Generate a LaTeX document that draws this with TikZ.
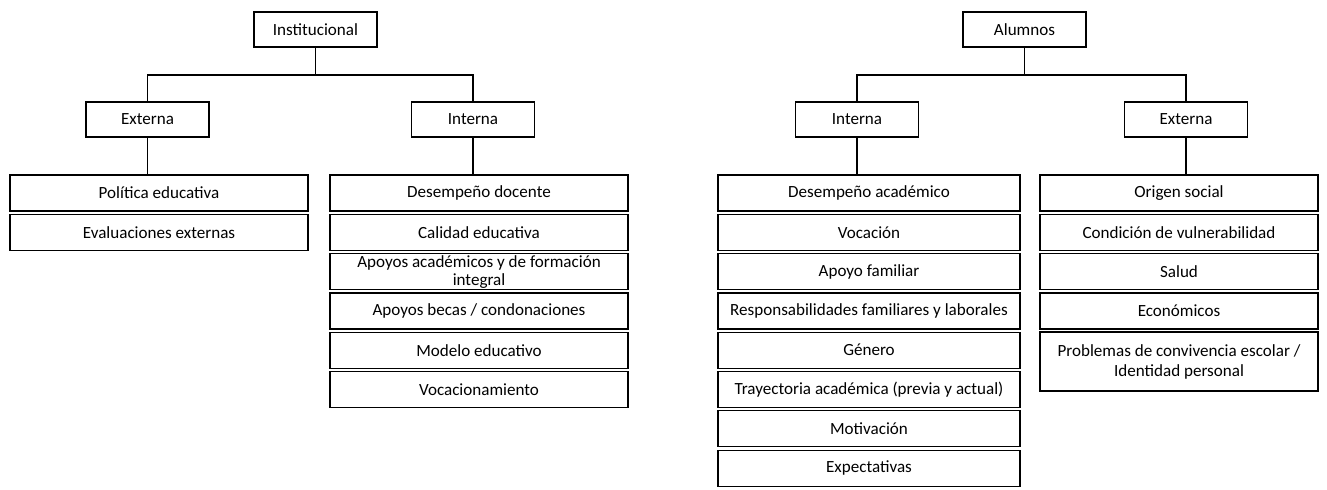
\documentclass[tikz,border=0pt]{standalone}
\usepackage{fontspec}
\setmainfont{Carlito}
\begin{document}
\begin{tikzpicture}[x=0.75pt, y=-0.75pt, line width=0.9pt,
		box/.style={draw=black, line width=0.9pt, minimum width=92.25pt, minimum height=26.25pt, inner sep=0.5pt, font=\fontsize{12.8}{13.5}\selectfont},
		item/.style={box, minimum width=223.5pt, minimum height=27pt, align=center},
		itemw/.style={item, minimum width=226.5pt},
		itemn/.style={item, minimum width=208.5pt}]
			\useasboundingbox (0,0) rectangle (1327,489);
			
			\node[box] (inst) at (315.5, 29.5) {Institucional};
			\node[box] (extA) at (147.5, 119.5) {Externa};
			\node[box] (intA) at (473, 119.5) {Interna};
			\coordinate (barA) at (315.5, 75);
			\draw (inst.south) -- (barA);
			\draw (extA.north) |- (barA) -| (intA.north);
			
			\node[item] (pol) at (159, 193) {Política educativa};
			\node[item] (eva) at (159, 232.3) {Evaluaciones externas};
			\draw (extA.south) -- (extA.south |- pol.north);
			
			\node[item] (desd) at (479, 193) {Desempeño docente};
			\node[item] (cal) at (479, 232.3) {Calidad educativa};
			\node[item] (apo) at (479, 271.6) {Apoyos académicos y de formación\\integral};
			\node[item] (bec) at (479, 310.9) {Apoyos becas / condonaciones};
			\node[item] (mod) at (479, 350.2) {Modelo educativo};
			\node[item] (vocm) at (479, 389.5) {Vocacionamiento};
			\draw (intA.south) -- (intA.south |- desd.north);
			
			\node[box] (alu) at (1024.5, 29.5) {Alumnos};
			\node[box] (intB) at (857, 119.5) {Interna};
			\node[box] (extB) at (1186, 119.5) {Externa};
			\coordinate (barB) at (1024.5, 75);
			\draw (alu.south) -- (barB);
			\draw (intB.north) |- (barB) -| (extB.north);
			
			\node[itemw] (desa) at (869, 193) {Desempeño académico};
			\node[itemw] (voc) at (869, 232.3) {Vocación};
			\node[itemw] (fam) at (869, 271.6) {Apoyo familiar};
			\node[itemw] (res) at (869, 310.9) {Responsabilidades familiares y laborales};
			\node[itemw] (gen) at (869, 350.2) {Género};
			\node[itemw] (tra) at (869, 389.5) {Trayectoria académica (previa y actual)};
			\node[itemw] (mot) at (869, 428.8) {Motivación};
			\node[itemw] (exp) at (869, 468.1) {Expectativas};
			\draw (intB.south) -- (intB.south |- desa.north);
			
			\node[itemn] (ori) at (1179, 193) {Origen social};
			\node[itemn] (vul) at (1179, 232.3) {Condición de vulnerabilidad};
			\node[itemn] (sal) at (1179, 271.6) {Salud};
			\node[itemn] (eco) at (1179, 310.9) {Económicos};
			\node[itemn, minimum height=44.25pt, font=\fontsize{12.8}{15}\selectfont] (pro) at (1179, 361.5) {Problemas de convivencia escolar /\\Identidad personal};
			\draw (extB.south) -- (extB.south |- ori.north);
		
		\end{tikzpicture}
\end{document}
